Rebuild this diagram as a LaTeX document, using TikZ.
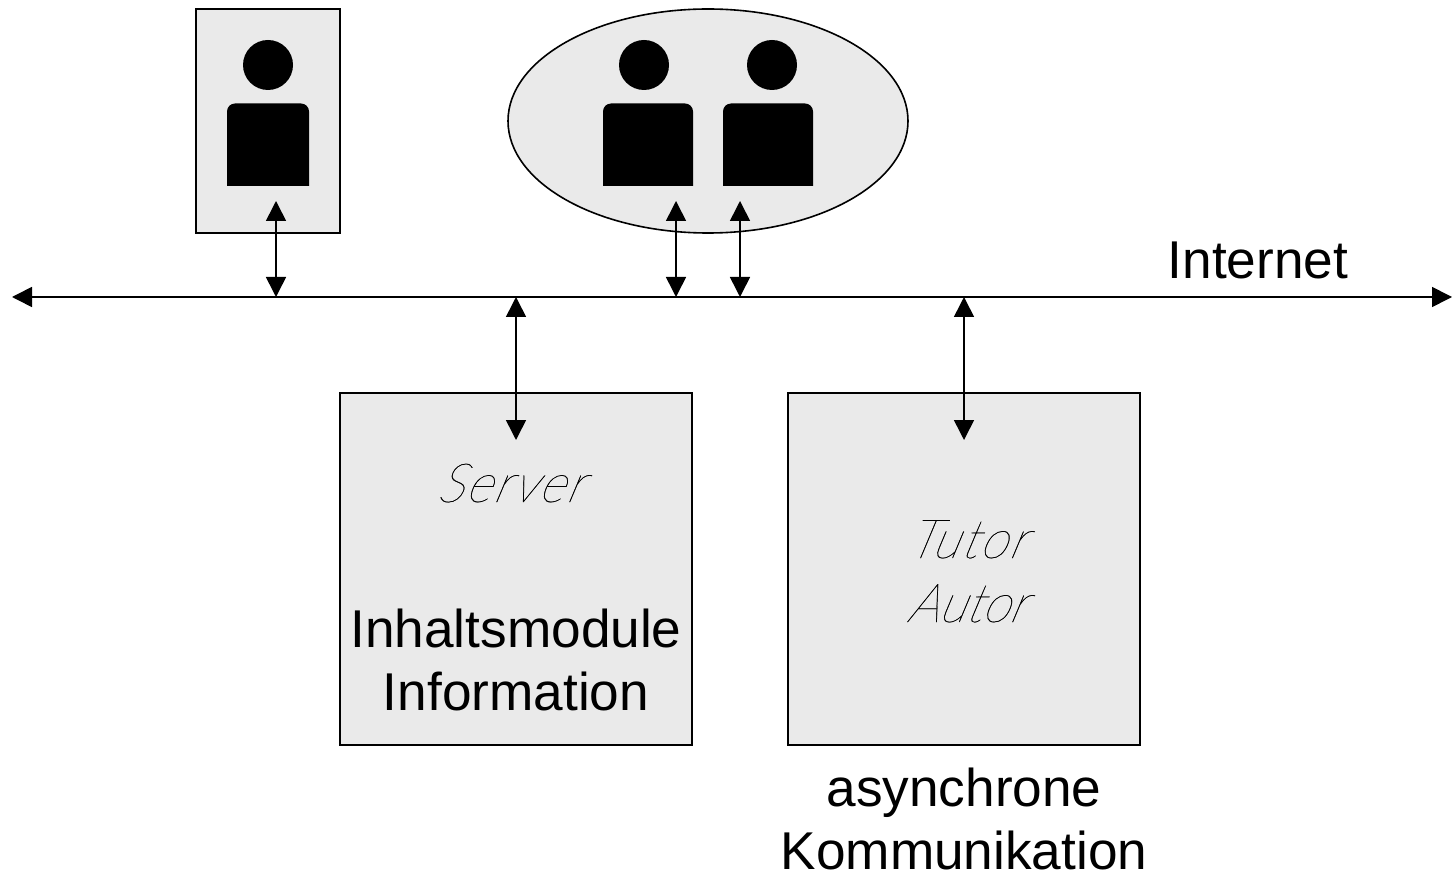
\documentclass[tikz,border=0pt]{standalone}
\usepackage{fontspec}
\setmainfont{Liberation Sans}
\newfontfamily\thinfont[FakeSlant=0.42,FakeStretch=0.92,FakeBold=0.4,LetterSpace=4]{Lato Hairline}
\newfontfamily\thintight[FakeSlant=0.42,FakeStretch=0.92,FakeBold=0.4]{Lato Hairline}
\usetikzlibrary{arrows.meta,shapes.geometric}
\definecolor{panel}{HTML}{EAEAEA}
\tikzset{
  panelbox/.style={draw=black,fill=panel,line width=1.6pt,rectangle,inner sep=0pt,outer sep=0pt},
  head/.style={fill=black,circle,inner sep=0pt,outer sep=0pt,minimum size=50pt},
  link/.style={line width=1.6pt,{Triangle[length=20pt,width=20pt]}-{Triangle[length=20pt,width=20pt]}},
  sans/.style={font=\fontsize{53.2}{63}\selectfont,inner sep=0pt,anchor=base,align=center},
  hand/.style={font=\thinfont\fontsize{54}{63}\selectfont,inner sep=0pt,anchor=base,text=black},
  handtight/.style={font=\thintight\fontsize{54}{63}\selectfont,inner sep=0pt,anchor=base,text=black},
  torso/.style={fill=black,rounded corners=8pt}
}
\begin{document}
\begin{tikzpicture}[x=1pt,y=-1pt]
\useasboundingbox (0,0) rectangle (1453,874);
% panels
\node[panelbox,minimum width=144pt,minimum height=224pt] (single) at (268,121) {};
\node[panelbox,ellipse,minimum width=400pt,minimum height=224pt] (group) at (708,121) {};
\node[panelbox,minimum width=352pt,minimum height=352pt] (server) at (516,569) {};
\node[panelbox,minimum width=352pt,minimum height=352pt] (tutor) at (964,569) {};
% persons
\node[head] (h1) at (268,65) {};
\node[head] (h2) at (644,65) {};
\node[head] (h3) at (772,65) {};
\path[torso] (227,186) [sharp corners] -- (227,150) [rounded corners=8pt] -- (227,103.5) -- (309,103.5) -- (309,150) [sharp corners] -- (309,186) -- cycle;
\path[torso] (603,186) [sharp corners] -- (603,150) [rounded corners=8pt] -- (603,103.5) -- (693,103.5) -- (693,150) [sharp corners] -- (693,186) -- cycle;
\path[torso] (723,186) [sharp corners] -- (723,150) [rounded corners=8pt] -- (723,103.5) -- (813,103.5) -- (813,150) [sharp corners] -- (813,186) -- cycle;
% ports
\coordinate (busL) at (12,297);
\coordinate (busR) at (1452,297);
\coordinate (p1t) at (276,201);
\coordinate (p1b) at (276,297);
\coordinate (p2t) at (676,201);
\coordinate (p2b) at (676,297);
\coordinate (p3t) at (740,201);
\coordinate (p3b) at (740,297);
\coordinate (p4t) at (516,297);
\coordinate (p4b) at (516,440);
\coordinate (p5t) at (964,297);
\coordinate (p5b) at (964,440);
% connectors
\draw[link] (busL) -- (busR);
\draw[link] (p1t) -- (p1b);
\draw[link] (p2t) -- (p2b);
\draw[link] (p3t) -- (p3b);
\draw[link] (p4t) -- (p4b);
\draw[link] (p5t) -- (p5b);
% labels
\node[sans] (internet) at (1258,279) {Internet};
\node[hand] (serverlbl) at (509,502) {Server};
\node[hand] (tutorlbl) at (965.5,558) {Tutor};
\node[handtight] (autorlbl) at (965.5,622) {Autor};
\node[sans] (inh) at (516,647) {Inhaltsmodule};
\node[sans] (inf) at (516,710) {Information};
\node[sans] (asy) at (964,806) {asynchrone};
\node[sans] (kom) at (964,869) {Kommunikation};
\end{tikzpicture}
\end{document}
